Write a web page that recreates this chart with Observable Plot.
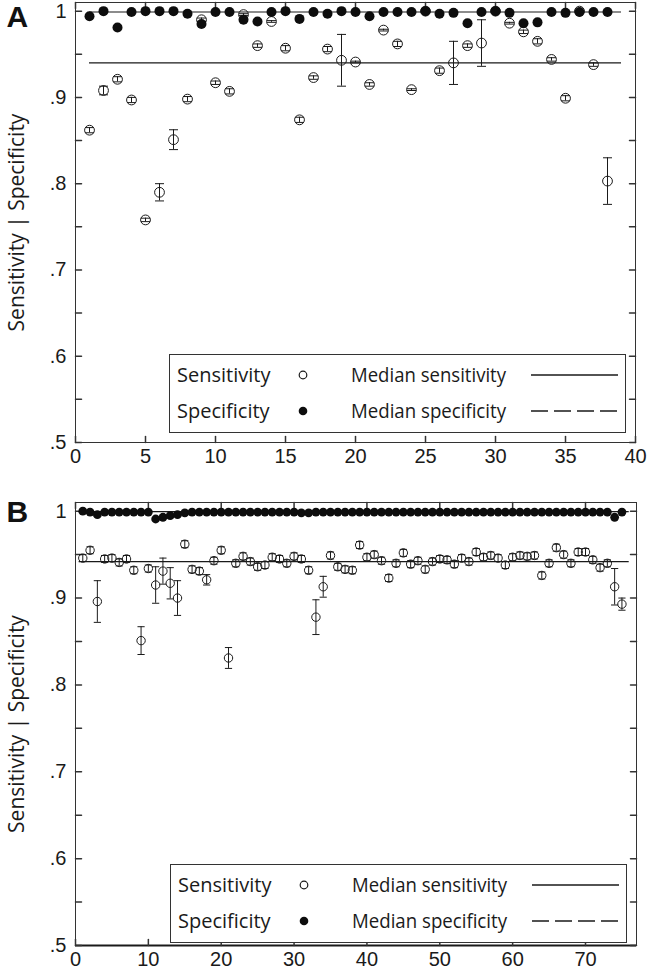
<!DOCTYPE html>
<html><head><meta charset="utf-8">
<script src="https://cdn.jsdelivr.net/npm/d3@7"></script>
<script src="https://cdn.jsdelivr.net/npm/@observablehq/plot@0.6"></script>
<style>
body{margin:0;background:#fff;}
#wrap{position:relative;width:648px;height:972px;overflow:hidden;background:#fff;}
.panel{position:absolute;left:0;width:648px;height:486px;}
.panel svg{display:block}
.legend{position:absolute;}
</style></head><body>
<div id="wrap">
 <div class="panel" id="pA" style="top:0"></div>
 <div class="panel" id="pB" style="top:486px"></div>
</div>
<script>
// ---------- Data ----------
const yLabel = "Sensitivity | Specificity";
const yLabelTicks = [0.5, 0.6, 0.7, 0.8, 0.9, 1];
const yMinorTicks = [0.5, 0.55, 0.6, 0.65, 0.7, 0.75, 0.8, 0.85, 0.9, 0.95, 1];
const legendLabels = ["Sensitivity", "Specificity", "Median sensitivity", "Median specificity"];

// Panel A (38 studies)
const aXTicks = [0, 5, 10, 15, 20, 25, 30, 35, 40];
const aSens = [0.862,0.908,0.921,0.897,0.758,0.790,0.851,0.898,0.990,0.917,
               0.907,0.996,0.960,0.988,0.957,0.874,0.923,0.956,0.943,0.941,
               0.915,0.978,0.962,0.909,1.000,0.931,0.940,0.960,0.963,1.000,
               0.986,0.976,0.965,0.944,0.899,1.000,0.938,0.803];
const aSensErr = [0.003,0.005,0.003,0.003,0.002,0.010,0.0115,0.003,0.002,0.002,
                  0.003,0.001,0.002,0.001,0.003,0.003,0.002,0.003,0.030,0.001,
                  0.002,0.001,0.003,0.001,0,0.003,0.025,0.002,0.027,0,
                  0.001,0.002,0.003,0.002,0.003,0,0.002,0.027];
const aSpec = [0.994,1.000,0.981,0.999,1.000,1.000,1.000,0.997,0.985,0.999,
               0.999,0.990,0.988,0.999,1.000,0.991,0.999,0.997,1.000,0.999,
               0.994,0.999,0.999,0.999,1.000,0.997,0.998,0.986,0.999,1.000,
               0.998,0.986,0.987,0.999,0.998,0.999,0.999,0.999];
const aMedianSens = 0.940;
const aMedianSpec = 0.999;
const aMedianSpan = [1, 39];

// Panel B (75 studies)
const bXTicks = [0, 10, 20, 30, 40, 50, 60, 70];
const bSens = [0.946,0.955,0.896,0.945,0.946,0.941,0.945,0.932,0.851,0.934,
               0.915,0.931,0.917,0.900,0.962,0.933,0.931,0.921,0.943,0.955,
               0.831,0.940,0.948,0.942,0.936,0.938,0.947,0.945,0.940,0.948,
               0.945,0.932,0.878,0.913,0.949,0.936,0.933,0.932,0.961,0.947,
               0.950,0.943,0.923,0.940,0.952,0.939,0.943,0.933,0.942,0.945,
               0.944,0.939,0.946,0.942,0.953,0.947,0.949,0.946,0.938,0.947,
               0.949,0.948,0.949,0.926,0.940,0.958,0.950,0.940,0.953,0.953,
               0.944,0.935,0.940,0.913,0.893];
const bSensErr = [0.004,0.004,0.024,0.004,0.004,0.004,0.004,0.004,0.016,0.004,
                  0.021,0.015,0.018,0.020,0.004,0.004,0.004,0.006,0.004,0.004,
                  0.012,0.004,0.004,0.004,0.004,0.004,0.004,0.004,0.004,0.004,
                  0.004,0.004,0.020,0.012,0.004,0.004,0.004,0.004,0.004,0.004,
                  0.004,0.004,0.004,0.004,0.004,0.004,0.004,0.004,0.004,0.004,
                  0.004,0.004,0.004,0.004,0.004,0.004,0.004,0.004,0.004,0.004,
                  0.004,0.004,0.004,0.004,0.004,0.004,0.004,0.004,0.004,0.004,
                  0.004,0.004,0.004,0.021,0.007];
const bSpec = [1.000,0.999,0.996,0.999,0.999,0.999,0.999,0.999,0.999,0.999,
               0.991,0.993,0.995,0.996,0.998,0.999,0.999,0.999,0.999,0.999,
               0.999,0.999,0.999,0.999,0.999,0.999,0.999,0.999,0.999,0.999,
               0.998,0.998,0.999,0.999,0.999,0.999,0.999,0.999,0.999,0.999,
               0.999,0.999,0.999,0.999,0.999,0.999,0.999,0.999,0.999,0.999,
               0.999,0.999,0.999,0.999,0.999,0.999,0.999,0.999,0.999,0.999,
               0.999,0.999,0.999,0.999,0.999,0.999,0.999,0.999,0.999,0.999,
               0.999,0.999,0.999,0.993,0.999];
const bMedianSens = 0.942;
const bMedianSpec = 0.9995;
const bMedianSpan = [0.5, 76];

// ---------- Helpers ----------
const INK = "#1a1a1a";
const tickShape = {draw(ctx, l) { ctx.moveTo(0, 0); ctx.lineTo(0, -l); }};
const capSymbol = {draw(ctx, size) { const r = Math.sqrt(size / Math.PI); ctx.moveTo(-r, 0); ctx.lineTo(r, 0); }};
const yFmt = d => d === 1 ? "1" : String(d).replace(/^0/, "");

function panel(opts) {
  const rows = opts.sens.map((s, i) => ({
    x: i + 1, sens: s, lo: s - opts.err[i], hi: s + opts.err[i], spec: opts.spec[i]
  }));
  const med = [
    {y: opts.medSens, x1: opts.span[0], x2: opts.span[1], dash: null},
    {y: opts.medSpec, x1: opts.span[0], x2: opts.span[1], dash: "10,5"}
  ];
  const marks = [
    Plot.frame({stroke: "#333", strokeWidth: 1}),
    opts.thickBottom ? Plot.ruleY([0.5], {stroke: INK, strokeWidth: 2}) : null,
    Plot.axisX({ticks: opts.xTicks, tickSize: 0, tickPadding: 6, label: null,
      tickFormat: d => String(d), fontSize: 20, fontFamily: "Liberation Sans, Arial, sans-serif", color: INK}),
    Plot.axisY({ticks: yLabelTicks, tickSize: 0, tickPadding: 9, label: null,
      tickFormat: yFmt, fontSize: 20, fontFamily: "Liberation Sans, Arial, sans-serif", color: INK}),
    Plot.vector(opts.xTicks, {x: d => d, frameAnchor: "bottom", rotate: 0, anchor: "start", length: 6, shape: tickShape, stroke: "#333"}),
    Plot.vector(opts.xTicks, {x: d => d, frameAnchor: "top", rotate: 180, anchor: "start", length: 6, shape: tickShape, stroke: "#333"}),
    Plot.vector(yMinorTicks, {y: d => d, frameAnchor: "left", rotate: 90, anchor: "start", length: 6, shape: tickShape, stroke: "#333"}),
    Plot.vector(yMinorTicks, {y: d => d, frameAnchor: "right", rotate: -90, anchor: "start", length: 6, shape: tickShape, stroke: "#333"}),
    Plot.text([yLabel], {frameAnchor: "left", rotate: -90, dx: -58, text: d => d, textAnchor: "middle", fontSize: 21,
      fontFamily: "Open Sans, Noto Sans, sans-serif", fill: INK}),
    Plot.text([opts.tag], {frameAnchor: "top-left", dx: -69, dy: opts.tagDy, text: d => d, textAnchor: "start",
      lineAnchor: "top", fontSize: 30, fontWeight: "bold", fontFamily: "Liberation Sans, Arial, sans-serif", fill: "#111"}),
    Plot.ruleY(med, {y: "y", x1: "x1", x2: "x2", stroke: INK, strokeWidth: 1.2, strokeDasharray: d => d.dash}),
    Plot.ruleX(rows, {x: "x", y1: "lo", y2: "hi", stroke: INK, strokeWidth: 1}),
    Plot.dot(rows, {x: "x", y: "lo", symbol: capSymbol, r: opts.capR, stroke: INK, fill: "none", strokeWidth: 1}),
    Plot.dot(rows, {x: "x", y: "hi", symbol: capSymbol, r: opts.capR, stroke: INK, fill: "none", strokeWidth: 1}),
    Plot.dot(rows, {x: "x", y: "sens", r: opts.openR, stroke: INK, fill: "none", strokeWidth: 1}),
    Plot.dot(rows, {x: "x", y: "spec", r: opts.fillR, fill: "#0d0d0d", stroke: "none"})
  ].filter(Boolean);
  return Plot.plot({
    width: 648, height: 486,
    marginTop: opts.mt, marginBottom: opts.mb, marginLeft: 75, marginRight: opts.mr,
    x: {domain: opts.xDomain},
    y: {domain: [0.5, 1.01]},
    style: {background: "white", color: INK, overflow: "visible"},
    marks
  });
}

function legend(container, left, top) {
  const w = 457, h = 79;
  const svg = d3.create("svg").attr("width", w).attr("height", h)
    .attr("class", "legend").style("left", left + "px").style("top", top + "px");
  svg.append("rect").attr("x", 0.5).attr("y", 0.5).attr("width", w - 1).attr("height", h - 1)
    .attr("fill", "white").attr("stroke", "#333");
  const font = "Open Sans, Noto Sans, sans-serif";
  const rowsY = [21, 57];
  [[legendLabels[0], 8], [legendLabels[1], 8], [legendLabels[2], 182], [legendLabels[3], 182]].forEach(([t, x], i) => {
    svg.append("text").attr("x", x).attr("y", rowsY[i % 2]).attr("dy", "0.35em")
      .attr("font-family", font).attr("font-size", 20).attr("fill", INK)
      .attr("textLength", i >= 2 ? 155 : null).attr("lengthAdjust", "spacingAndGlyphs").text(t);
  });
  svg.append("circle").attr("cx", 134).attr("cy", rowsY[0]).attr("r", 3.8).attr("fill", "none").attr("stroke", INK).attr("stroke-width", 1.2);
  svg.append("circle").attr("cx", 134).attr("cy", rowsY[1]).attr("r", 4.3).attr("fill", "#0d0d0d");
  svg.append("line").attr("x1", 362).attr("x2", 449).attr("y1", rowsY[0]).attr("y2", rowsY[0]).attr("stroke", INK).attr("stroke-width", 1.3);
  svg.append("line").attr("x1", 362).attr("x2", 449).attr("y1", rowsY[1]).attr("y2", rowsY[1]).attr("stroke", INK).attr("stroke-width", 1.3).attr("stroke-dasharray", "17,6");
  container.appendChild(svg.node());
}

const pA = document.getElementById("pA");
pA.appendChild(panel({tag: "A", tagDy: 3, sens: aSens, err: aSensErr, spec: aSpec, medSens: aMedianSens, medSpec: aMedianSpec,
  span: aMedianSpan, xTicks: aXTicks, xDomain: [0, 40], mt: 2, mb: 44, mr: 13, capR: 4.5, openR: 4.9, fillR: 5, thickBottom: false}));
legend(pA, 169, 354);

const pB = document.getElementById("pB");
pB.appendChild(panel({tag: "B", tagDy: -2, sens: bSens, err: bSensErr, spec: bSpec, medSens: bMedianSens, medSpec: bMedianSpec,
  span: bMedianSpan, xTicks: bXTicks, xDomain: [0, 77], mt: 16, mb: 27, mr: 12, capR: 3.6, openR: 4.2, fillR: 4.4, thickBottom: true}));
legend(pB, 170, 378);
</script>
</body></html>
